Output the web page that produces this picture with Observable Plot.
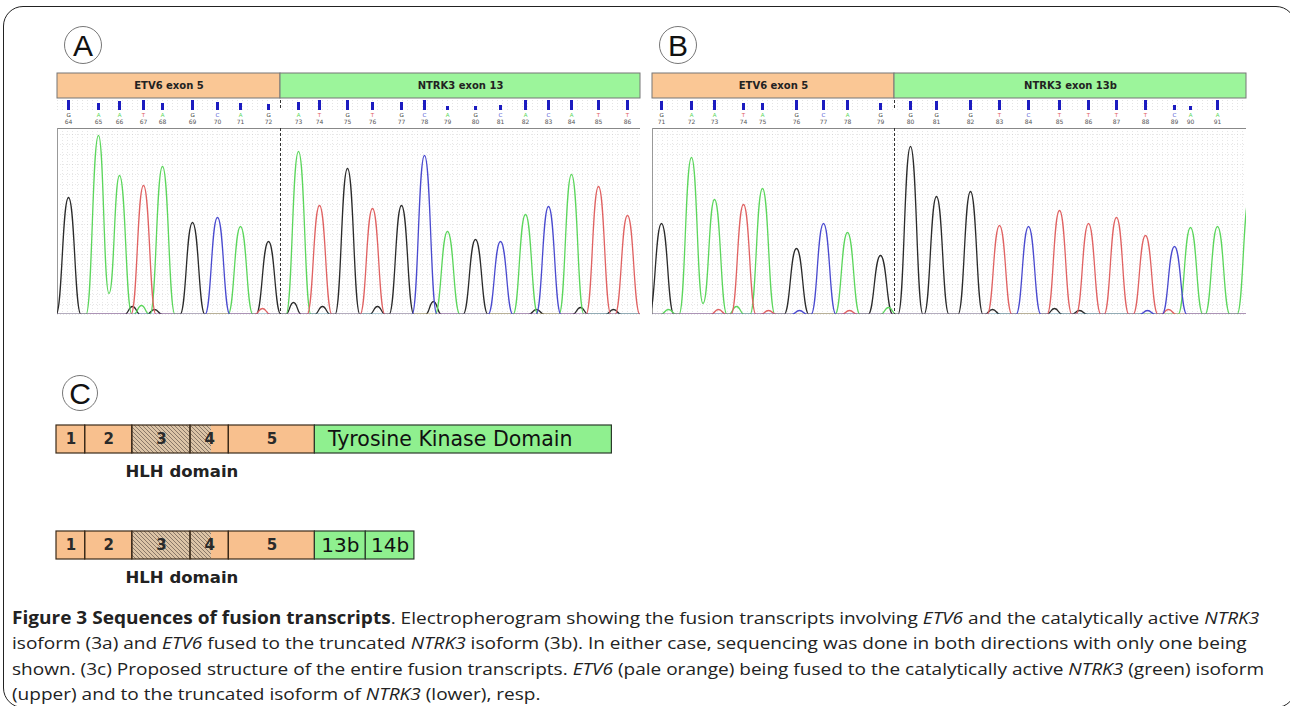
<!DOCTYPE html>
<html><head><meta charset="utf-8">
<script src="https://cdn.jsdelivr.net/npm/d3@7"></script>
<script src="https://cdn.jsdelivr.net/npm/@observablehq/plot@0.6"></script>
<style>
body{margin:0;background:#fff;}
#fig{position:relative;width:1290px;height:706px;overflow:hidden;background:#fff;}
.frame{position:absolute;left:3px;top:6px;width:1293px;height:702px;border:1.5px solid #222;border-radius:20px;box-sizing:border-box;}
.circ{position:absolute;box-sizing:border-box;border:1px solid #777;border-radius:50%;text-align:center;font-family:"Liberation Sans",Arial,sans-serif;color:#111;font-size:30px;}
#caption{position:absolute;left:12px;top:605px;font-family:"Open Sans",sans-serif;font-size:17px;line-height:25.3px;color:#222;white-space:nowrap;transform:scaleX(1.12);transform-origin:0 0;}
</style></head>
<body>
<div id="fig">
  <div class="frame"></div>
  <div class="circ" style="left:64px;top:26px;width:38px;height:38px;line-height:38px;">A</div>
  <div class="circ" style="left:659px;top:26px;width:38px;height:38px;line-height:38px;">B</div>
  <div class="circ" style="left:62px;top:375px;width:36px;height:36px;line-height:36px;">C</div>
  <div id="caption">
    <div><b>Figure 3 Sequences of fusion transcripts</b>. Electropherogram showing the fusion transcripts involving <i>ETV6</i> and the catalytically active <i>NTRK3</i></div>
    <div>isoform (3a) and <i>ETV6</i> fused to the truncated <i>NTRK3</i> isoform (3b). In either case, sequencing was done in both directions with only one being</div>
    <div>shown. (3c) Proposed structure of the entire fusion transcripts. <i>ETV6</i> (pale orange) being fused to the catalytically active <i>NTRK3</i> (green) isoform</div>
    <div>(upper) and to the truncated isoform of <i>NTRK3</i> (lower), resp.</div>
  </div>
</div>
<script>
// ---------- Data ----------
const baseOrder = ["G", "A", "T", "C"];
const baseColors = ["#2b2b2b", "#5cd65c", "#e06262", "#4a4acf"];

// Panel A: ETV6 exon 5 / NTRK3 exon 13
const aNumbers = [64,65,66,67,68,69,70,71,72,73,74,75,76,77,78,79,80,81,82,83,84,85,86];
const aBases   = ["G","A","A","T","A","G","C","A","G","A","T","G","T","G","C","A","G","C","A","C","A","T","T"];
const aScan    = [11,41,62,86,105,135,160,183,211,241,262,290,315,344,367,390,418,443,468,491,514,541,570];
const aHeight  = [117,179,139,129,148,92,97,88,73,163,109,146,106,109,159,83,75,73,100,108,140,128,99];
const aQuality = [10,7,9,10,7,10,8,7,6,8,10,10,8,8,10,4,4,5,10,10,10,10,10];
const aExonLabels = ["ETV6 exon 5", "NTRK3 exon 13"];
const aExonBounds = [0, 223, 583];
const aNoiseScan   = [75,84,97,205,236,265,320,376,479,523,556];
const aNoiseBase   = ["G","A","G","T","G","G","G","G","G","G","G"];
const aNoiseHeight = [8,9,5,6,12,8,8,13,5,7,5];
const aValleyAfter = [65];
const aValleyLevel = [21];

// Panel B: ETV6 exon 5 / NTRK3 exon 13b
const bNumbers = [71,72,73,74,75,76,77,78,79,80,81,82,83,84,85,86,87,88,89,90,91,92];
const bBases   = ["G","A","A","T","A","G","C","A","G","G","G","G","T","C","T","T","T","T","C","A","A","A"];
const bScan    = [9,39,62,91,110,144,171,195,228,258,284,318,347,376,407,436,464,493,522,538,565,597];
const bHeight  = [91,157,115,110,126,66,91,82,59,168,118,123,89,88,104,91,97,79,68,87,88,118];
const bQuality = [9,9,10,7,7,10,10,10,7,9,9,10,10,10,10,10,10,10,5,4,10,10];
const bExonLabels = ["ETV6 exon 5", "NTRK3 exon 13b"];
const bExonBounds = [0, 242, 594];
const bNoiseScan   = [16,66,84,116,147,197,236,340,402,427,495,516];
const bNoiseBase   = ["A","T","A","T","C","T","A","G","G","G","C","T"];
const bNoiseHeight = [5,5,8,4,4,4,7,5,6,4,4,5];
const bValleyAfter = [72];
const bValleyLevel = [11];

// Panel C: fusion transcript structures
const transcripts = ["upper", "lower"];
const etvExonLabels = ["1","2","3","4","5"];
const etvExonStart  = [0, 28.7, 75.8, 134, 172.3];
const etvExonEnd    = [28.7, 75.8, 134, 172.3, 258.4];
const hlhStart = 75.8, hlhEnd = 155;
const upperNtrkLabels = ["Tyrosine Kinase Domain"];
const upperNtrkStart  = [258.4];
const upperNtrkEnd    = [555.4];
const lowerNtrkLabels = ["13b", "14b"];
const lowerNtrkStart  = [258.4, 309.3];
const lowerNtrkEnd    = [309.3, 357.9];

// ---------- Helpers ----------
const PEAK_W = 12.5, NOISE_W = 8;
const fig = document.getElementById("fig");
function place(el, left, top) {
  el.style.position = "absolute";
  el.style.left = left + "px";
  el.style.top = top + "px";
  fig.appendChild(el);
}

function traceRows(scan, bases, heights, numbers, nScan, nBase, nHeight, vAfter, vLevel, xmax) {
  const bumps = [];
  scan.forEach((s, i) => bumps.push({pos: s, base: bases[i], h: heights[i], w: PEAK_W, num: numbers[i]}));
  nScan.forEach((s, i) => bumps.push({pos: s, base: nBase[i], h: nHeight[i], w: NOISE_W, num: null}));
  const rows = [];
  for (const b of baseOrder) {
    const list = bumps.filter(d => d.base === b).sort((p, q) => p.pos - q.pos);
    const pts = [{x: -40, y: 0}];
    list.forEach((d, i) => {
      const prev = list[i - 1];
      if (prev && d.pos - d.w < prev.pos + prev.w) {
        pts.pop();
        const k = vAfter.indexOf(prev.num);
        pts.push({x: (prev.pos + d.pos) / 2, y: k >= 0 ? vLevel[k] : 0});
      } else {
        pts.push({x: d.pos - d.w, y: 0});
      }
      pts.push({x: d.pos, y: d.h});
      pts.push({x: d.pos + d.w, y: 0});
    });
    pts.push({x: xmax + 40, y: 0});
    pts.forEach(p => rows.push({x: p.x, y: p.y, base: b}));
  }
  return rows;
}

function panel(opts) {
  const {left, W, labels, bounds, numbers, bases, scan, heights, quality, nScan, nBase, nHeight, vAfter, vLevel} = opts;
  const fusion = bounds[1];
  const m = 2;
  const xs = {domain: [0, W], axis: null};
  const style = {background: "transparent", overflow: "visible"};

  const exons = labels.map((l, i) => ({label: l, x1: bounds[i], x2: bounds[i + 1]}));
  const header = Plot.plot({
    width: W + 2 * m, height: 27, marginLeft: m, marginRight: m, marginTop: 1, marginBottom: 1,
    x: xs, style,
    marks: [
      Plot.rect(exons.slice(0, 1), {x1: "x1", x2: "x2", fill: "#fac795", stroke: "#777", strokeWidth: 1}),
      Plot.rect(exons.slice(1), {x1: "x1", x2: "x2", fill: "#9cf59b", stroke: "#777", strokeWidth: 1}),
      Plot.text(exons, {x: d => (d.x1 + d.x2) / 2, text: "label", fontWeight: "bold", fontSize: 10,
        fontFamily: "DejaVu Sans", fill: "#222"})
    ]
  });
  place(header, left - m, 72);

  const calls = numbers.map((n, i) => ({num: n, base: bases[i], scan: scan[i], q: quality[i]}))
    .filter(d => d.scan <= W - 3);
  const callPlot = Plot.plot({
    width: W + 2 * m, height: 31, marginLeft: m, marginRight: m, marginTop: 2, marginBottom: 19,
    x: xs, y: {domain: [0, 10], axis: null},
    color: {domain: baseOrder, range: baseColors},
    style,
    marks: [
      Plot.gridX({ticks: 90, stroke: "#bbb", strokeDasharray: "1,2", strokeOpacity: 0.4}),
      Plot.ruleX(calls, {x: "scan", y1: 0, y2: "q", stroke: "#1c1cc0", strokeWidth: 3}),
      Plot.text(calls, {x: "scan", y: 0, dy: 5, text: "base", fill: "base", fontSize: 5.5, fontFamily: "DejaVu Sans"}),
      Plot.text(calls, {x: "scan", y: 0, dy: 12, text: d => String(d.num), fill: "#555", fontSize: 6, fontFamily: "DejaVu Sans"}),
      Plot.ruleX([fusion], {stroke: "#333", strokeDasharray: "3,2", strokeWidth: 1})
    ]
  });
  place(callPlot, left - m, 98);

  const rows = traceRows(scan, bases, heights, numbers, nScan, nBase, nHeight, vAfter, vLevel, W);
  const trace = Plot.plot({
    width: W + 2 * m, height: 191, marginLeft: m, marginRight: m, marginTop: 0, marginBottom: 5,
    x: xs, y: {domain: [0, 186], axis: null},
    color: {domain: baseOrder, range: baseColors},
    style,
    marks: [
      Plot.gridX({ticks: 90, stroke: "#bbb", strokeDasharray: "1,2", strokeOpacity: 0.35}),
      Plot.gridY({ticks: 24, stroke: "#bbb", strokeDasharray: "1,2", strokeOpacity: 0.35}),
      Plot.ruleY([186], {stroke: "#888", strokeWidth: 1}),
      Plot.ruleX([0], {stroke: "#999", strokeWidth: 1}),
      Plot.line(rows, {x: "x", y: "y", z: "base", stroke: "base", curve: "bump-x", strokeWidth: 1.3, clip: true}),
      Plot.ruleX([fusion], {stroke: "#333", strokeDasharray: "3,2", strokeWidth: 1})
    ]
  });
  place(trace, left - m, 128);
}

panel({left: 57, W: 583, labels: aExonLabels, bounds: aExonBounds, numbers: aNumbers, bases: aBases,
  scan: aScan, heights: aHeight, quality: aQuality, nScan: aNoiseScan, nBase: aNoiseBase,
  nHeight: aNoiseHeight, vAfter: aValleyAfter, vLevel: aValleyLevel});
panel({left: 652, W: 594, labels: bExonLabels, bounds: bExonBounds, numbers: bNumbers, bases: bBases,
  scan: bScan, heights: bHeight, quality: bQuality, nScan: bNoiseScan, nBase: bNoiseBase,
  nHeight: bNoiseHeight, vAfter: bValleyAfter, vLevel: bValleyLevel});

// ---------- Panel C ----------
const etvRows = transcripts.flatMap(t => etvExonLabels.map((l, i) => ({row: t, label: l, x1: etvExonStart[i], x2: etvExonEnd[i]})));
const hlhRows = transcripts.map(t => ({row: t, x1: hlhStart, x2: hlhEnd}));
const tkRows = upperNtrkLabels.map((l, i) => ({row: "upper", label: l, x1: upperNtrkStart[i], x2: upperNtrkEnd[i]}));
const shortRows = lowerNtrkLabels.map((l, i) => ({row: "lower", label: l, x1: lowerNtrkStart[i], x2: lowerNtrkEnd[i]}));

const svgC = Plot.plot({
  width: 562, height: 180, marginLeft: 1, marginRight: 5, marginTop: 14, marginBottom: 31,
  x: {domain: [0, 556], axis: null},
  y: {domain: transcripts, axis: null, paddingInner: 0.738, paddingOuter: 0},
  style: {background: "transparent", overflow: "visible"},
  marks: [
    Plot.barX(etvRows, {x1: "x1", x2: "x2", y: "row", fill: "#f8c08e"}),
    Plot.barX(hlhRows, {x1: "x1", x2: "x2", y: "row", fill: "url(#hatch)"}),
    Plot.barX(etvRows, {x1: "x1", x2: "x2", y: "row", fill: "none", stroke: "#3a2a1a", strokeWidth: 1.2}),
    Plot.barX(tkRows, {x1: "x1", x2: "x2", y: "row", fill: "#8ff08f", stroke: "#2a3a2a", strokeWidth: 1.2}),
    Plot.barX(shortRows, {x1: "x1", x2: "x2", y: "row", fill: "#8ff08f", stroke: "#2a3a2a", strokeWidth: 1.2}),
    Plot.text(etvRows, {x: d => (d.x1 + d.x2) / 2, y: "row", text: "label", fontSize: 15, fontWeight: "bold",
      fontFamily: "DejaVu Sans", fill: "#2a2a2a"}),
    Plot.text(tkRows, {x: "x1", y: "row", dx: 13, text: "label", textAnchor: "start", fontSize: 20.5,
      fontFamily: "DejaVu Sans", fill: "#111"}),
    Plot.text(shortRows, {x: d => (d.x1 + d.x2) / 2, y: "row", text: "label", fontSize: 20,
      fontFamily: "DejaVu Sans", fill: "#111"}),
    Plot.text(hlhRows, {x: d => (d.x1 + d.x2) / 2, y: "row", dx: 10, dy: 32, text: () => "HLH domain",
      fontSize: 16.5, fontWeight: "bold", fontFamily: "DejaVu Sans", fill: "#222"})
  ]
});
const defs = d3.select(svgC).insert("defs", ":first-child");
const pat = defs.append("pattern").attr("id", "hatch").attr("patternUnits", "userSpaceOnUse")
  .attr("width", 4).attr("height", 4);
pat.append("rect").attr("width", 4).attr("height", 4).attr("fill", "#dcc4a6");
pat.append("path").attr("d", "M-1,-1L5,5M-1,3L1,5M3,-1L5,1").attr("stroke", "#8a7868").attr("stroke-width", 1);
place(svgC, 55, 410);
</script>
</body></html>
